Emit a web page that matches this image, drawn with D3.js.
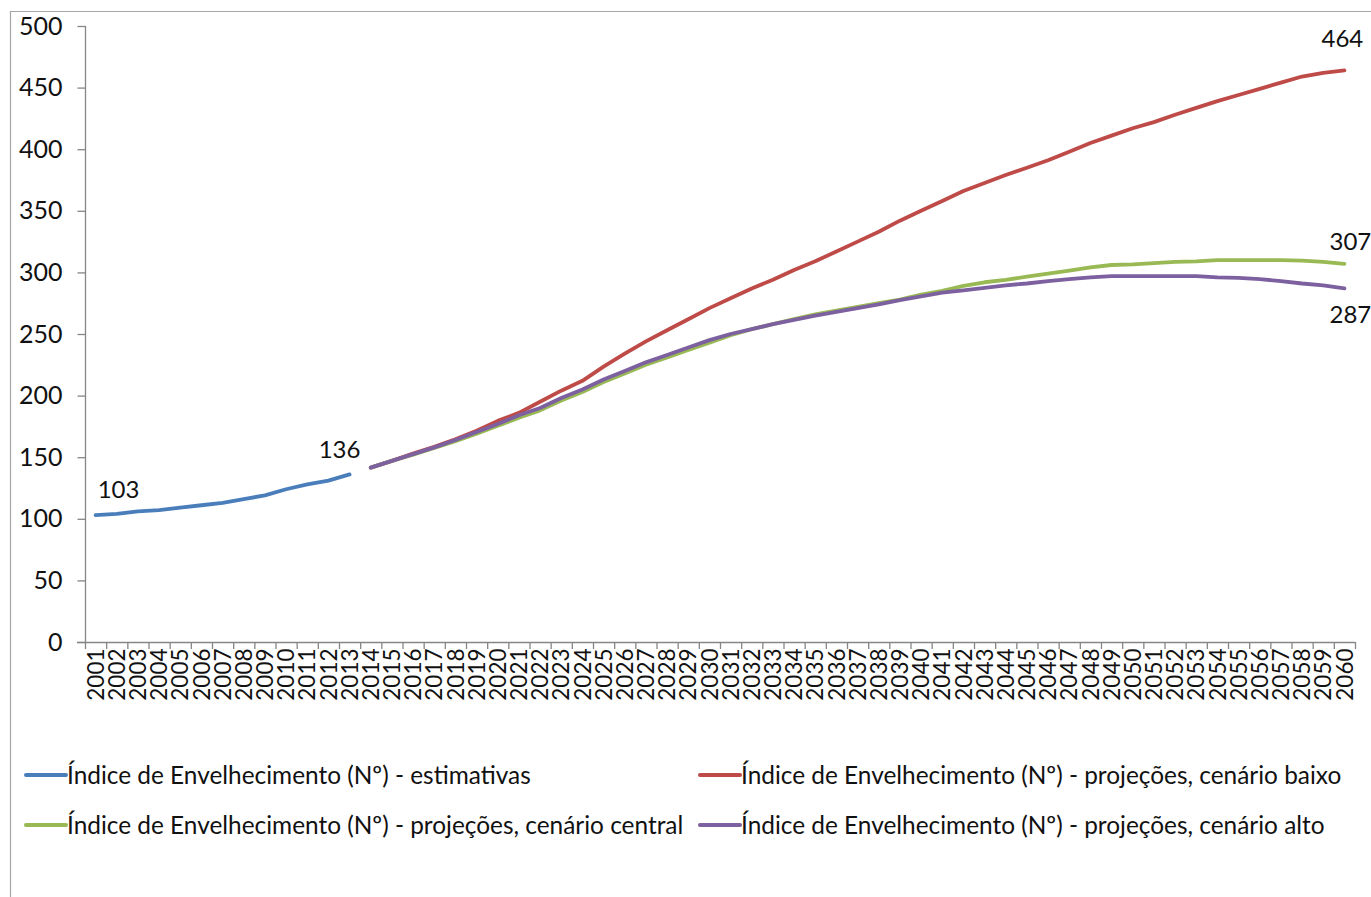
<!DOCTYPE html>
<html><head><meta charset="utf-8">
<script src="https://cdn.jsdelivr.net/npm/d3@7"></script>
<style>
html,body{margin:0;padding:0;background:#fff;}
svg{display:block;font-family:Lato,"Open Sans",sans-serif;}
</style></head>
<body>
<svg id="chart" width="1371" height="897"></svg>
<script>
const years = d3.range(2001, 2061).map(String);
const yTicks = [0,50,100,150,200,250,300,350,400,450,500];

const estYears = d3.range(2001, 2014).map(String);
const estimativas = [103,104,106,107,109,111,113,116,119,124,128,131,136];

const projYears = d3.range(2014, 2061).map(String);
const cenarioBaixo = [141.5,147,153,158.5,164.5,171.5,179.5,186,195,204,212,223.5,234,244,253,262,271,279,287,294,302,309,317,325,333,342,350,358,366,372.5,379,385,391,398,405,411,417,422,428,433.5,439,444,449,454,459,462,464];
const cenarioCentral = [141.5,147,152,157.5,163,169,175.5,182,188,196,203,211,218,225,231,237,243,249,254,258,262,266,269,272,275,278,282,285,289,292,294,296.5,299,301.5,304,306,306.5,307.5,308.5,309,310,310,310,310,309.5,308.5,307];
const cenarioAlto = [141.5,147,152.5,158,164,170.5,177,184,190,198,205,213,220,227,233,239,245,250,254,258,261.5,265,268,271,274,277.5,280.5,283.5,285.5,287.5,289.5,291,293,294.5,296,297,297,297,297,297,296,295.5,294.5,293,291,289.5,287];

const seriesNames = [
  "Índice de Envelhecimento (Nº) - estimativas",
  "Índice de Envelhecimento (Nº) - projeções, cenário baixo",
  "Índice de Envelhecimento (Nº) - projeções, cenário central",
  "Índice de Envelhecimento (Nº) - projeções, cenário alto"
];
const seriesColors = ["#4a7ebb","#be4b48","#98b954","#7d60a0"];

const svg = d3.select("#chart");
const axisColor = "#868686";

// outer frame
svg.append("line").attr("x1",10.5).attr("x2",10.5).attr("y1",11).attr("y2",897).attr("stroke","#a6a6a6").attr("stroke-width",1.2);
svg.append("line").attr("x1",10).attr("x2",1371).attr("y1",11.5).attr("y2",11.5).attr("stroke","#a6a6a6").attr("stroke-width",1.2);

const x = d3.scaleBand().domain(years).range([85,1355]).padding(0);
const y = d3.scaleLinear().domain([0,500]).range([642,26]);
const cx = d => x(d) + x.bandwidth()/2;

// y axis
const yAxis = svg.append("g").attr("transform","translate(85.5,0)")
  .call(d3.axisLeft(y).tickValues(yTicks).tickSize(8).tickPadding(15).tickFormat(d3.format("d")));
yAxis.select(".domain").attr("stroke",axisColor).attr("stroke-width",1.3).attr("d","M0,"+y(500)+"V"+y(0));
yAxis.selectAll(".tick line").attr("stroke",axisColor).attr("stroke-width",1.3);
yAxis.selectAll(".tick text").attr("font-size",25).attr("fill","#111").attr("font-family","Lato,sans-serif");

// x axis
const xAxis = svg.append("g").attr("transform","translate(0,642.5)")
  .call(d3.axisBottom(x).tickSize(0).tickPadding(0));
xAxis.select(".domain").attr("stroke",axisColor).attr("stroke-width",1.3).attr("d","M77,0H1355");
xAxis.selectAll(".tick text")
  .attr("font-size",22.5).attr("fill","#111").attr("font-family","Lato,sans-serif")
  .attr("transform","rotate(-90)").attr("text-anchor","end")
  .attr("x",-6).attr("y",0).attr("dy","0.36em");
// boundary ticks
const bounds = years.map(d => x(d)).concat([x(years[years.length-1]) + x.bandwidth()]);
svg.append("g").selectAll("line").data(bounds).join("line")
  .attr("x1",d=>d+0.5).attr("x2",d=>d+0.5).attr("y1",642).attr("y2",649)
  .attr("stroke",axisColor).attr("stroke-width",1.3);

// lines
const line = d3.line().x(d=>cx(d[0])).y(d=>y(d[1]));
const series = [
  {yrs:estYears, vals:estimativas},
  {yrs:projYears, vals:cenarioBaixo},
  {yrs:projYears, vals:cenarioCentral},
  {yrs:projYears, vals:cenarioAlto}
];
series.forEach((s,i)=>{
  svg.append("path").datum(d3.zip(s.yrs,s.vals))
    .attr("d",line).attr("fill","none").attr("stroke",seriesColors[i])
    .attr("stroke-width",3.8).attr("stroke-linejoin","round").attr("stroke-linecap","round");
});

// data labels
const labels = [
  {yr:"2001", v:estimativas[0], t:"103", dx:23, dy:-17},
  {yr:"2013", v:estimativas[estimativas.length-1], t:"136", dx:-10, dy:-16},
  {yr:"2060", v:cenarioBaixo[cenarioBaixo.length-1], t:"464", dx:-2, dy:-23},
  {yr:"2060", v:cenarioCentral[cenarioCentral.length-1], t:"307", dx:6, dy:-14},
  {yr:"2060", v:cenarioAlto[cenarioAlto.length-1], t:"287", dx:6, dy:35}
];
svg.append("g").selectAll("text").data(labels).join("text")
  .attr("x",d=>cx(d.yr)+d.dx).attr("y",d=>y(d.v)+d.dy)
  .attr("text-anchor","middle").attr("font-size",24).attr("fill","#111")
  .text(d=>d.t);

// legend
const legPos = [[26,775],[700,775],[26,825],[700,825]];
const leg = svg.append("g").selectAll("g").data(seriesNames).join("g")
  .attr("transform",(d,i)=>`translate(${legPos[i][0]},${legPos[i][1]})`);
leg.append("line").attr("x1",0).attr("x2",40).attr("y1",0).attr("y2",0)
  .attr("stroke",(d,i)=>seriesColors[i]).attr("stroke-width",4).attr("stroke-linecap","round");
leg.append("text").attr("x",41).attr("y",0).attr("dy","0.35em")
  .attr("font-size",24.4).attr("fill","#111").text(d=>d);
</script>
</body></html>
